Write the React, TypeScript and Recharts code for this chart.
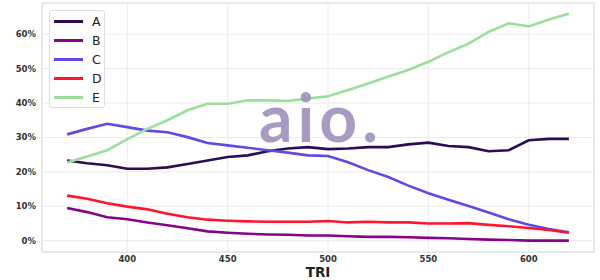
import React from 'react';
import {
  LineChart,
  Line,
  XAxis,
  YAxis,
  CartesianGrid,
  ReferenceArea,
} from 'recharts';

// TRI steps (x axis)
const tri = [
  370, 380, 390, 400, 410, 420, 430, 440, 450, 460, 470, 480, 490,
  500, 510, 520, 530, 540, 550, 560, 570, 580, 590, 600, 610, 620,
];

// share per group, in %
const seriesA = [
  23.3, 22.5, 21.9, 20.9, 20.9, 21.3, 22.3, 23.3, 24.3, 24.8, 26.0, 26.8, 27.2,
  26.6, 26.8, 27.2, 27.2, 28.0, 28.5, 27.5, 27.2, 26.0, 26.3, 29.2, 29.6, 29.6,
];
const seriesB = [
  9.5, 8.3, 6.8, 6.2, 5.3, 4.5, 3.6, 2.7, 2.3, 2.0, 1.8, 1.7, 1.5,
  1.5, 1.3, 1.1, 1.1, 1.0, 0.8, 0.7, 0.5, 0.3, 0.2, 0.0, 0.0, 0.0,
];
const seriesC = [
  30.9, 32.5, 34.0, 33.0, 32.0, 31.5, 30.1, 28.4, 27.7, 27.0, 26.3, 25.6, 24.8,
  24.6, 22.8, 20.5, 18.5, 16.0, 13.8, 11.9, 10.1, 8.2, 6.2, 4.6, 3.4, 2.4,
];
const seriesD = [
  13.1, 12.2, 10.9, 9.9, 9.1, 7.8, 6.8, 6.1, 5.8, 5.6, 5.5, 5.5, 5.5,
  5.7, 5.3, 5.5, 5.3, 5.3, 5.0, 5.0, 5.1, 4.6, 4.2, 3.7, 3.1, 2.3,
];
const seriesE = [
  22.7, 24.5, 26.3, 29.5, 32.5, 35.0, 37.9, 39.8, 39.8, 40.8, 40.8, 40.6, 41.3,
  42.0, 43.8, 45.7, 47.7, 49.6, 52.0, 54.8, 57.3, 60.7, 63.2, 62.3, 64.3, 66.0,
];

const xTicks = [400, 450, 500, 550, 600];
const yTicks = [0, 10, 20, 30, 40, 50, 60];

const series = [
  { key: 'A', values: seriesA, color: '#2e0b52' },
  { key: 'B', values: seriesB, color: '#86038c' },
  { key: 'C', values: seriesC, color: '#5d4be3' },
  { key: 'D', values: seriesD, color: '#ff1530' },
  { key: 'E', values: seriesE, color: '#9bde9e' },
];

const data = tri.map((t, i) => {
  const row: Record<string, number> = { tri: t };
  series.forEach((s) => {
    row[s.key] = s.values[i];
  });
  return row;
});

const X_DOMAIN: [number, number] = [357.5, 632.5];
const Y_DOMAIN: [number, number] = [-3.3, 69.1];

const tickStyle = {
  fontSize: 8.5,
  fontWeight: 'bold' as const,
  fill: '#333',
  fontFamily: 'DejaVu Sans',
};

function ChartLegend() {
  return (
    <div
      style={{
        position: 'absolute',
        left: 49,
        top: 10,
        width: 56,
        height: 98,
        boxSizing: 'border-box',
        border: '1px solid #dddddd',
        borderRadius: 3,
        background: 'rgba(255,255,255,0.85)',
        fontFamily: 'DejaVu Sans',
        fontSize: 12.5,
        color: '#222',
        zIndex: 3,
      }}
    >
      {series.map((s, i) => (
        <div
          key={s.key}
          style={{
            position: 'absolute',
            left: 0,
            top: 10 + i * 19.2 - 8,
            height: 16,
            display: 'flex',
            alignItems: 'center',
          }}
        >
          <span
            style={{
              display: 'inline-block',
              marginLeft: 4,
              width: 29,
              height: 3,
              background: s.color,
            }}
          />
          <span style={{ marginLeft: 9 }}>{s.key}</span>
        </div>
      ))}
    </div>
  );
}

export default function App() {
  return (
    <div
      style={{
        position: 'absolute',
        left: 0,
        top: 0,
        width: 600,
        height: 280,
        background: '#fff',
      }}
    >
      <LineChart
        width={600}
        height={280}
        data={data}
        margin={{ top: 3, right: 6, bottom: 0, left: 0 }}
      >
        <CartesianGrid stroke="#ebebeb" strokeWidth={1} />
        <XAxis
          dataKey="tri"
          type="number"
          domain={X_DOMAIN}
          ticks={xTicks}
          height={28}
          axisLine={false}
          tickLine={false}
          tickSize={0}
          tickMargin={4}
          tick={tickStyle}
          label={{
            value: 'TRI',
            position: 'insideBottom',
            offset: 3,
            style: {
              fontSize: 13.5,
              fontWeight: 'bold',
              fill: '#222',
              fontFamily: 'DejaVu Sans',
            },
          }}
        />
        <YAxis
          type="number"
          domain={Y_DOMAIN}
          ticks={yTicks}
          width={42}
          axisLine={false}
          tickLine={false}
          tickSize={0}
          tickMargin={6}
          tick={tickStyle}
          tickFormatter={(v) => `${v}%`}
        />
        <ReferenceArea
          x1={X_DOMAIN[0]}
          x2={X_DOMAIN[1]}
          y1={Y_DOMAIN[0]}
          y2={Y_DOMAIN[1]}
          fill="none"
          stroke="#dcdcdc"
          strokeWidth={1}
        />
        {series.map((s) => (
          <Line
            key={s.key}
            type="linear"
            dataKey={s.key}
            stroke={s.color}
            strokeWidth={2.6}
            dot={false}
            activeDot={false}
            isAnimationActive={false}
          />
        ))}
      </LineChart>
      <svg
        width={600}
        height={280}
        style={{ position: 'absolute', left: 0, top: 0, pointerEvents: 'none', zIndex: 2 }}
      >
        <text
          x={259}
          y={142}
          fontSize={66}
          fontWeight="bold"
          fontFamily="Lato"
          letterSpacing={5}
          fill="#a291bd"
          fillOpacity={0.92}
        >
          aio.
        </text>
      </svg>
      <ChartLegend />
    </div>
  );
}
